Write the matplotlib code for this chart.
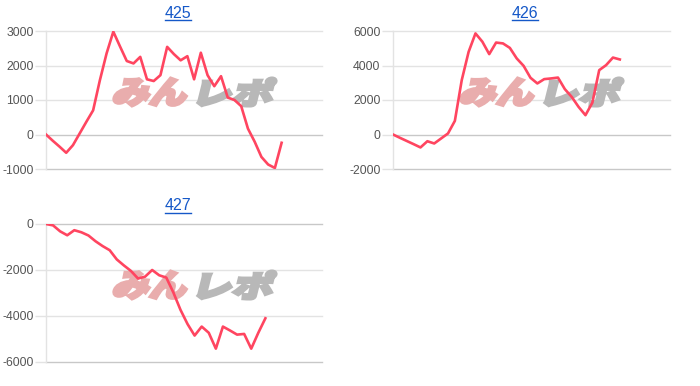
import numpy as np
import matplotlib
matplotlib.use('Agg')
import matplotlib.pyplot as plt
import matplotlib.transforms as mtransforms
from matplotlib.textpath import TextPath
from matplotlib.font_manager import FontProperties
from matplotlib.patches import PathPatch
from matplotlib.lines import Line2D

plt.rcParams['font.family'] = ['Liberation Sans', 'DejaVu Sans']

# data
titles = ['425', '426', '427']

vals_425 = [0, -180, -350, -530, -310, 30, 370, 700, 1570, 2350, 2980, 2550,
            2130, 2060, 2250, 1600, 1550, 1720, 2540, 2330, 2150, 2270, 1600,
            2370, 1720, 1400, 1690, 1070, 1000, 820, 170, -210, -650, -870,
            -970, -240]
vals_426 = [0, -190, -375, -560, -750, -390, -520, -230, 60, 790, 3150, 4790,
            5860, 5380, 4660, 5330, 5280, 5020, 4410, 3980, 3290, 2960, 3210,
            3250, 3300, 2630, 2180, 1600, 1120, 1840, 3730, 4020, 4460, 4350]
vals_427 = [0, -60, -320, -490, -270, -360, -500, -750, -960, -1140, -1540,
            -1800, -2040, -2370, -2290, -2000, -2230, -2330, -2980, -3730,
            -4350, -4850, -4460, -4730, -5420, -4460, -4630, -4810, -4780,
            -5420, -4730, -4100]

yticks_425 = [-1000, 0, 1000, 2000, 3000]
yticks_426 = [-2000, 0, 2000, 4000, 6000]
yticks_427 = [-6000, -4000, -2000, 0]

W, H = 700, 386
fig = plt.figure(figsize=(W / 100, H / 100), dpi=100)

line_col = '#ff4560'
grid_col = '#e3e3e3'
base_col = '#c8c8c8'
label_col = '#555555'
title_col = '#1558c8'


def px_axes(left, top, right, bottom):
    return fig.add_axes([left / W, (H - bottom) / H, (right - left) / W, (bottom - top) / H])


def add_logo(ax, x0, y0):
    # watermark: two word parts, skewed, fitted into pixel boxes
    fp = FontProperties(family=['Noto Sans CJK JP'], weight='black')
    parts = [('みん', '#e9adad', x0, x0 + 80), ('レポ', '#b8b8b8', x0 + 85, x0 + 166)]
    for txt, col, xa, xb in parts:
        tp = TextPath((0, 0), txt, size=40, prop=fp)
        ext = tp.get_extents()
        sx = (xb - xa - 8) / ext.width
        sy = 28 / ext.height
        tr = (mtransforms.Affine2D()
              .translate(-ext.x0, -ext.y0)
              .scale(sx, sy)
              .skew_deg(14, 0)
              .translate(xa, H - (y0 + 29))
              .scale(1 / 100)
              + fig.dpi_scale_trans)
        ax.add_patch(PathPatch(tp, facecolor=col, edgecolor=col, lw=2.2,
                               joinstyle='miter', transform=tr,
                               zorder=1.5, clip_on=False))


def panel(box, vals, yticks, xmax, title, tx, ty):
    ax = px_axes(*box)
    x = np.arange(len(vals))
    ax.plot(x, vals, color=line_col, lw=1.9, solid_joinstyle='round', zorder=3)
    ax.set_xlim(0, xmax)
    ax.set_ylim(yticks[0], yticks[-1])
    ax.set_yticks(yticks)
    ax.set_yticklabels([str(v) for v in yticks])
    ax.set_xticks([])
    for v in yticks:
        c = base_col if v in (0, yticks[0]) else grid_col
        ax.axhline(v, color=c, lw=1.0, zorder=1, clip_on=False)
    for s in ['top', 'right', 'bottom']:
        ax.spines[s].set_visible(False)
    ax.spines['left'].set_color(grid_col)
    ax.spines['left'].set_linewidth(1.0)
    ax.tick_params(axis='y', length=8, width=1.0, color=grid_col, pad=1,
                   labelsize=8.8, labelcolor=label_col)
    add_logo(ax, box[0] + 66, 77 + (box[1] - 31))
    t = fig.text(tx / W, 1 - ty / H, title, ha='center', va='center',
                 color=title_col, fontsize=11.5)
    return ax, t


a1, t1 = panel((46, 31, 322, 169), vals_425, yticks_425, 41, titles[0], 178, 13)
a2, t2 = panel((393, 31, 670, 169), vals_426, yticks_426, 40.3, titles[1], 525, 13)
a3, t3 = panel((46, 224, 322, 362), vals_427, yticks_427, 39, titles[2], 178, 206)

# underline the titles
fig.canvas.draw()
r = fig.canvas.get_renderer()
for t in (t1, t2, t3):
    bb = t.get_window_extent(r)
    yy = (bb.y0 + 1) / H
    fig.add_artist(Line2D([bb.x0 / W, bb.x1 / W], [yy, yy], color=title_col, lw=1.0))

fig.savefig('out.png', dpi=100)
